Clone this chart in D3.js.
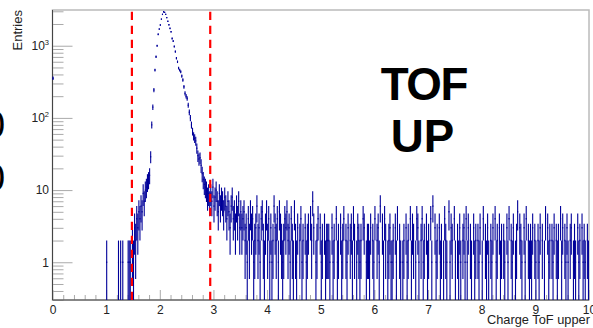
<!DOCTYPE html>
<html>
<head>
<meta charset="utf-8">
<script src="https://cdn.jsdelivr.net/npm/d3@7/dist/d3.min.js"></script>
<style>
  html, body { margin: 0; padding: 0; background: #fff; }
  svg { display: block; font-family: "Liberation Sans", Arial, sans-serif; }
</style>
</head>
<body>
<div id="chart"></div>
<script>
// histogram: 500 bins from 0 to 10
const xRange = [0, 10];
const nBins = 500;

// isolated low-charge bins [bin, entries]
const lowBins = [[0, 355], [50, 1], [61, 1], [63, 1], [65, 1], [70, 1], [71, 1], [72, 1]];

// main peak, bins 74..146
const peakStart = 74;
const peakCounts = [
  2, 1, 3, 2, 4, 3, 5, 4, 6, 5, 9, 7, 10, 11, 13, 14, 16,
  29, 80, 141, 243, 460, 705, 1000, 1440, 1700, 1940, 2340, 2720, 2950,
  2900, 2720, 2450, 2180, 1950, 1740, 1560, 1260, 1160, 975, 830, 670, 600,
  490, 460, 437, 380, 335, 270, 219, 200, 186, 150, 120, 100, 80, 65, 56,
  52, 48, 38, 30, 27, 28, 22, 17, 14, 12, 11, 10, 8, 9, 7
];

// tail right after the peak, bins 147..160
const tailStart = 147;
const tailHead = [9, 7, 11, 6, 8, 10, 7, 5, 9, 6, 8, 7, 5, 8];
// remaining tail, bins 161..499, one digit per bin
const tailDigits =
  "647536845364735" +
  "3452314253" + "4123623145" + "2135241312" + "6324153212" + "4352314215" +
  "2130241203" + "1230427301" + "2403120312" + "2210312041" + "2031240213" +
  "0231420132" + "1204301221" + "3021402316" + "0314201231" + "1203140210" +
  "1203120413" + "2014310241" + "2031204160" + "3120312014" + "2105132041" +
  "0213102314" + "1302103120" + "2130140213" + "1021304120" + "3120210314" +
  "0213012503" + "2103140212" + "1302102130" + "2014031202" + "1302120413" +
  "0213102301" + "2103120312" + "1021";

const cutLines = [1.48, 2.94];
const xMajor = [0, 1, 2, 3, 4, 5, 6, 7, 8, 9, 10];
const yMajor = [1, 10, 100, 1000];
const yLabels = [["1", ""], ["10", ""], ["10", "2"], ["10", "3"]];
const xTitle = "Charge ToF upper";
const yTitle = "Entries";
const padText = ["TOF", "UP"];

const counts = new Array(nBins).fill(0);
lowBins.forEach(([b, c]) => { counts[b] = c; });
peakCounts.forEach((c, i) => { counts[peakStart + i] = c; });
tailHead.forEach((c, i) => { counts[tailStart + i] = c; });
tailDigits.split("").forEach((ch, i) => { counts[tailStart + tailHead.length + i] = +ch; });

const W = 593, H = 328;
const frame = { left: 52.5, right: 589, top: 10, bottom: 300 };

const svg = d3.select("#chart").append("svg")
  .attr("width", W).attr("height", H)
  .attr("viewBox", `0 0 ${W} ${H}`);

svg.append("rect").attr("width", W).attr("height", H).attr("fill", "#fff");

const x = d3.scaleLinear().domain(xRange).range([frame.left, frame.right]);
const y = d3.scaleLog().domain([0.3, 3126]).range([frame.bottom, frame.top]);
const binW = (xRange[1] - xRange[0]) / nBins;

// frame
svg.append("rect")
  .attr("x", frame.left).attr("y", frame.top)
  .attr("width", frame.right - frame.left).attr("height", frame.bottom - frame.top)
  .attr("fill", "none").attr("stroke", "#bbb").attr("stroke-width", 1.5);

// x axis ticks (pointing inward)
const xMinor = d3.range(0, 10.001, 0.2).filter(v => Math.abs(v - Math.round(v)) > 1e-6);
svg.append("g")
  .attr("transform", `translate(0,${frame.bottom})`)
  .call(d3.axisBottom(x).tickValues(xMinor).tickSize(-5).tickFormat(""))
  .call(g => g.select(".domain").remove())
  .call(g => g.selectAll("line").attr("stroke", "#aaa"));
svg.append("g")
  .attr("transform", `translate(0,${frame.bottom})`)
  .call(d3.axisBottom(x).tickValues(xMajor).tickSize(-10).tickPadding(5).tickFormat(d3.format("d")))
  .call(g => g.select(".domain").remove())
  .call(g => g.selectAll("line").attr("stroke", "#aaa"))
  .call(g => g.selectAll("text")
    .attr("font-size", 12).attr("fill", "#222")
    .attr("font-family", "'Liberation Sans', Arial, sans-serif"));

// y axis ticks
const yMinor = [];
[0.1, 1, 10, 100, 1000].forEach(dec => {
  for (let k = 2; k <= 9; k++) {
    const v = dec * k;
    if (v >= 0.3 && v <= 3126) yMinor.push(v);
  }
});
svg.append("g")
  .attr("transform", `translate(${frame.left},0)`)
  .call(d3.axisLeft(y).tickValues(yMinor).tickSize(-11).tickFormat(""))
  .call(g => g.select(".domain").remove())
  .call(g => g.selectAll("line").attr("stroke", "#aaa"));
svg.append("g")
  .attr("transform", `translate(${frame.left},0)`)
  .call(d3.axisLeft(y).tickValues(yMajor).tickSize(-20).tickFormat(""))
  .call(g => g.select(".domain").remove())
  .call(g => g.selectAll("line").attr("stroke", "#aaa"));

const yl = svg.append("g").attr("font-size", 12).attr("fill", "#222");
yMajor.forEach((v, i) => {
  const t = yl.append("text")
    .attr("x", 49).attr("y", y(v) + 4.3)
    .attr("text-anchor", "end");
  t.append("tspan").text(yLabels[i][0]);
  if (yLabels[i][1]) {
    t.append("tspan").attr("font-size", 7.5).attr("dy", -5).text(yLabels[i][1]);
  }
});

// axis lines
svg.append("line")
  .attr("x1", frame.left).attr("x2", frame.left)
  .attr("y1", frame.top).attr("y2", frame.bottom)
  .attr("stroke", "#444").attr("stroke-width", 1);
svg.append("line")
  .attr("x1", frame.left).attr("x2", frame.right)
  .attr("y1", frame.bottom).attr("y2", frame.bottom)
  .attr("stroke", "#444").attr("stroke-width", 1);

// histogram with error bars
const bins = counts.map((c, i) => ({ i, c })).filter(d => d.c > 0);
const hist = svg.append("g").attr("stroke", "#000099").attr("fill", "none");
hist.selectAll("line.err")
  .data(bins)
  .join("line")
  .attr("class", "err")
  .attr("x1", d => x((d.i + 0.5) * binW))
  .attr("x2", d => x((d.i + 0.5) * binW))
  .attr("y1", d => y(d.c + Math.sqrt(d.c)))
  .attr("y2", d => {
    const lo = d.c - Math.sqrt(d.c);
    return lo > 0.3 ? y(lo) : frame.bottom;
  })
  .attr("stroke-width", 1.1);
hist.selectAll("line.val")
  .data(bins)
  .join("line")
  .attr("class", "val")
  .attr("x1", d => x(d.i * binW))
  .attr("x2", d => x((d.i + 1) * binW))
  .attr("y1", d => y(d.c))
  .attr("y2", d => y(d.c))
  .attr("stroke-width", 1.4);

// cut lines
svg.append("g").selectAll("line")
  .data(cutLines)
  .join("line")
  .attr("x1", d => x(d)).attr("x2", d => x(d))
  .attr("y1", frame.top + 1.7).attr("y2", frame.bottom)
  .attr("stroke", "#ff0000").attr("stroke-width", 2.2)
  .attr("stroke-dasharray", "8.3,5.7");

// titles
svg.append("text")
  .attr("x", 487).attr("y", 323.5)
  .attr("font-size", 12.8).attr("fill", "#222")
  .text(xTitle);
svg.append("text")
  .attr("transform", "translate(22,10) rotate(-90)")
  .attr("text-anchor", "end")
  .attr("font-size", 13).attr("fill", "#222")
  .text(yTitle);

// pad label
svg.append("text")
  .attr("x", 423.8).attr("y", 99.5)
  .attr("text-anchor", "middle")
  .attr("font-size", 45.7).attr("font-weight", "bold")
  .attr("letter-spacing", -1.5)
  .text(padText[0]);
svg.append("text")
  .attr("x", 422.5).attr("y", 151.7)
  .attr("text-anchor", "middle")
  .attr("font-size", 45.7).attr("font-weight", "bold")
  .text(padText[1]);

// glyph edges from the neighbouring pad
[137.5, 191].forEach(by => {
  svg.append("text")
    .attr("x", -16).attr("y", by)
    .attr("font-size", 38).attr("fill", "#000")
    .text("0");
});
</script>
</body>
</html>
